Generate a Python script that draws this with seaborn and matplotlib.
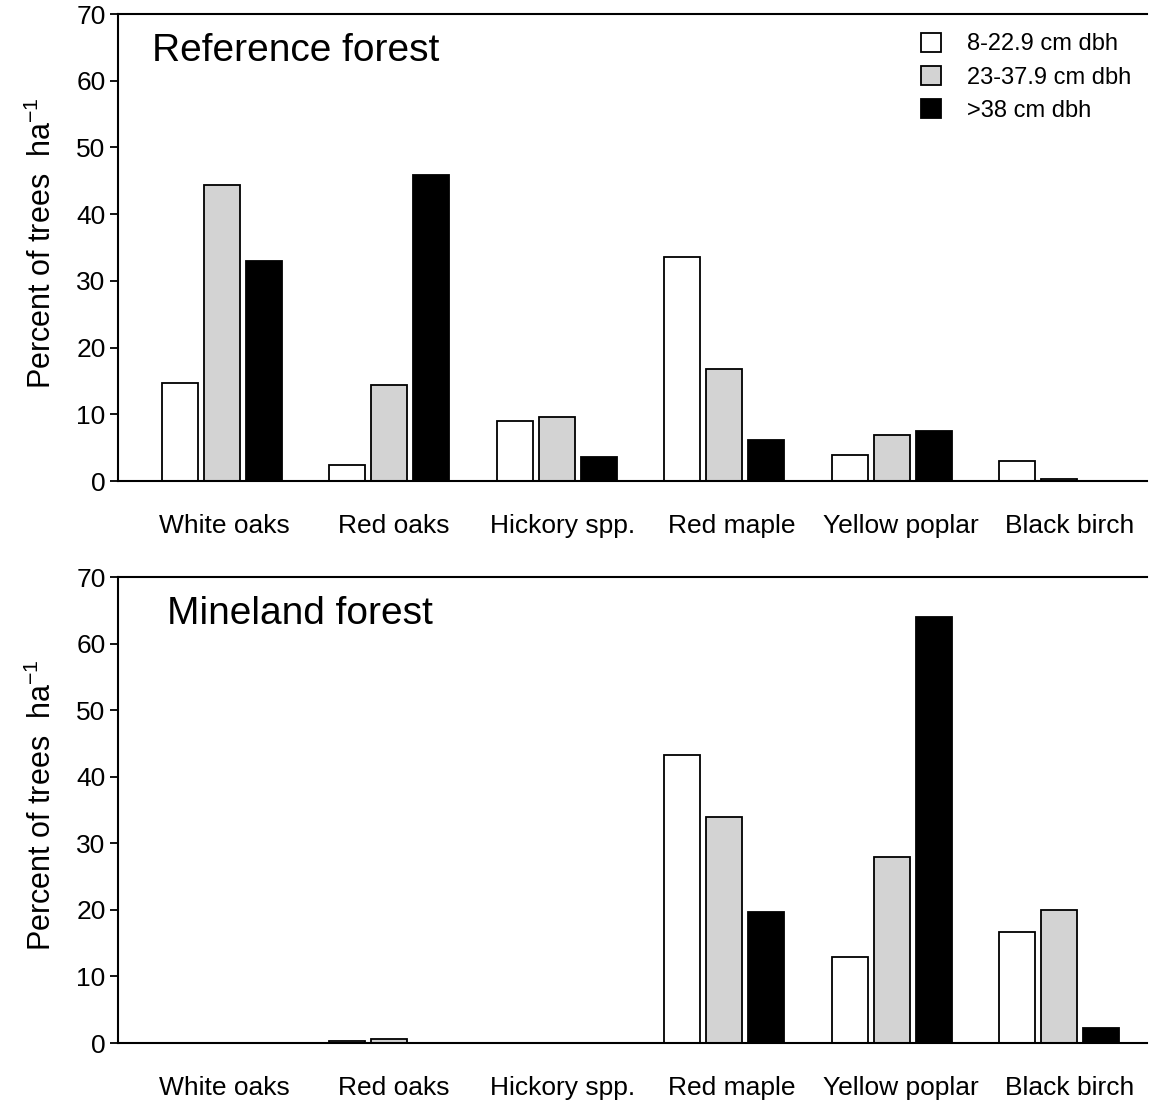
import matplotlib
matplotlib.use('Agg')
import matplotlib.pyplot as plt
from matplotlib.patches import Patch
import seaborn as sns
import numpy as np
import pandas as pd

# species groups on the x axis
species = ['White oaks', 'Red oaks', 'Hickory spp.', 'Red maple',
           'Yellow poplar', 'Black birch']
size_classes = ['8-22.9 cm dbh', '23-37.9 cm dbh', '>38 cm dbh']

# percent of trees per ha, reference forest
ref_small = [14.7, 2.4, 9.0, 33.6, 3.9, 3.0]
ref_mid = [44.4, 14.4, 9.6, 16.8, 6.9, 0.3]
ref_large = [33.0, 45.9, 3.6, 6.1, 7.5, 0.0]

# percent of trees per ha, mineland forest
mine_small = [0.0, 0.3, 0.0, 43.3, 12.9, 16.7]
mine_mid = [0.0, 0.6, 0.0, 34.0, 28.0, 20.0]
mine_large = [0.0, 0.0, 0.0, 19.7, 64.0, 2.3]

# empty fourth slot in each group (shows as baseline only)
spacer = [0, 0, 0, 0, 0, 0]

y_ticks = [0, 10, 20, 30, 40, 50, 60, 70]
colors = ['white', '#d3d3d3', 'black', 'white']


def make_frame(small, mid, large):
    rows = []
    for name, vals in zip(size_classes + [' '], [small, mid, large, spacer]):
        for sp, v in zip(species, vals):
            rows.append({'species': sp, 'size': name, 'pct': v})
    return pd.DataFrame(rows)


sns.set_style('ticks')
plt.rcParams['font.family'] = ['Liberation Sans', 'DejaVu Sans']
plt.rcParams['mathtext.fontset'] = 'custom'
plt.rcParams['mathtext.rm'] = 'Liberation Sans'
plt.rcParams['mathtext.default'] = 'regular'
plt.rcParams['text.color'] = 'black'
plt.rcParams['axes.labelcolor'] = 'black'
plt.rcParams['xtick.color'] = 'black'
plt.rcParams['ytick.color'] = 'black'

fig = plt.figure(figsize=(11.49, 11.05), dpi=100)
ax1 = fig.add_axes([0.1027, 0.5647, 0.8956, 0.4226])
ax2 = fig.add_axes([0.1027, 0.0561, 0.8956, 0.4217])

panels = [
    (ax1, make_frame(ref_small, ref_mid, ref_large), 'Reference forest', 0.033),
    (ax2, make_frame(mine_small, mine_mid, mine_large), 'Mineland forest', 0.048),
]

for ax, df, title, tx in panels:
    sns.barplot(data=df, x='species', y='pct', hue='size', order=species,
                hue_order=size_classes + [' '], palette=colors,
                edgecolor='black', linewidth=1.3, width=1.0, gap=0.14,
                errorbar=None, legend=False, saturation=1, ax=ax)
    ax.set_xlim(-0.745, 5.4)
    ax.set_ylim(0, 70)
    ax.set_yticks(y_ticks)
    ax.set_xticks(np.arange(len(species)) * 1.01 - 0.11)
    ax.set_xticklabels(species)
    ax.set_xlabel('')
    ax.set_ylabel('Percent of trees  ha$^{-1}$', fontsize=22)
    ax.yaxis.set_label_coords(-0.058, 0.51)
    ax.tick_params(axis='x', length=0, pad=24, labelsize=19)
    ax.tick_params(axis='y', length=6, width=1.3, pad=3, labelsize=19,
                   direction='out')
    ax.spines['right'].set_visible(False)
    for s in ['left', 'top', 'bottom']:
        ax.spines[s].set_linewidth(1.5)
        ax.spines[s].set_color('black')
    ax.text(tx, 0.96, title, transform=ax.transAxes, fontsize=28,
            ha='left', va='top')

handles = [Patch(facecolor=c, edgecolor='black', linewidth=1.3)
           for c in colors[:3]]
ax1.legend(handles, size_classes, loc='upper left',
           bbox_to_anchor=(0.78, 0.96), frameon=False, fontsize=17,
           handlelength=0.85, handleheight=0.85, handletextpad=1.1,
           labelspacing=0.45, borderpad=0, borderaxespad=0)

plt.savefig('out.png', dpi=100)
plt.close('all')
